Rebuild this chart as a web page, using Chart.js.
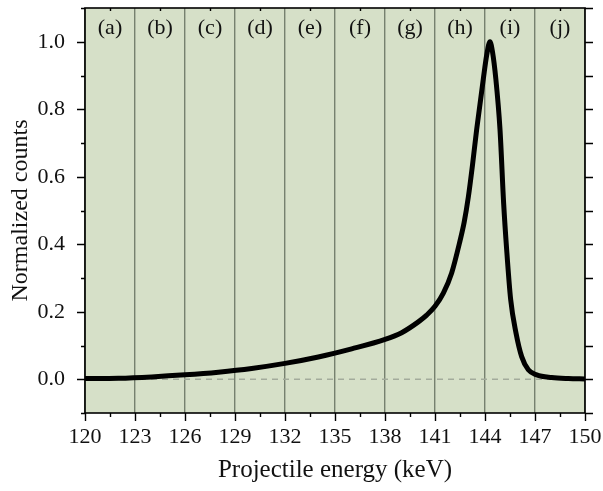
<!DOCTYPE html>
<html>
<head>
<meta charset="utf-8">
<script src="https://cdn.jsdelivr.net/npm/chart.js@4/dist/chart.umd.min.js"></script>
<style>
  html, body { margin: 0; padding: 0; background: #fff; }
  #wrap { width: 603px; height: 491px; }
</style>
</head>
<body>
<div id="wrap"><canvas id="spectrum"></canvas></div>
<script>
// spectrum
const energy = [120, 122, 124, 126, 128, 130, 132, 134, 136, 138, 139, 140, 140.5, 141, 141.5, 142, 142.5, 142.75, 143, 143.25, 143.5, 143.9, 144.1, 144.3, 144.45, 144.65, 144.9, 145.12, 145.3, 145.54, 145.86, 146.2, 146.6, 147.1, 148, 149, 150];
const counts = [0.002, 0.003, 0.007, 0.013, 0.021, 0.032, 0.047, 0.066, 0.09, 0.118, 0.138, 0.17, 0.19, 0.216, 0.255, 0.315, 0.41, 0.465, 0.54, 0.635, 0.74, 0.89, 0.96, 1.0, 0.97, 0.89, 0.74, 0.52, 0.384, 0.236, 0.137, 0.067, 0.028, 0.013, 0.005, 0.002, 0.001];
const zeroEnergy = [120, 150];
const zeroCounts = [0, 0];
const regionLabels = ["(a)", "(b)", "(c)", "(d)", "(e)", "(f)", "(g)", "(h)", "(i)", "(j)"];
const regionCenters = [121.5, 124.5, 127.5, 130.5, 133.5, 136.5, 139.5, 142.5, 145.5, 148.5];
const xTicks = [120, 123, 126, 129, 132, 135, 138, 141, 144, 147, 150];
const yTicks = [0, 0.2, 0.4, 0.6, 0.8, 1.0];

const serif = "'Liberation Serif', 'Times New Roman', serif";

const decor = {
    id: "decor",
    beforeDraw(chart) {
        const a = chart.chartArea, ctx = chart.ctx;
        ctx.save();
        ctx.fillStyle = "#d6e0c8";
        ctx.fillRect(a.left, a.top, a.right - a.left, a.bottom - a.top);
        ctx.restore();
    },
    afterDraw(chart) {
        const a = chart.chartArea, ctx = chart.ctx;
        const xs = chart.scales.x, ys = chart.scales.y;
        ctx.save();
        // region labels
        ctx.fillStyle = "#111";
        ctx.font = "22px " + serif;
        ctx.textAlign = "center";
        ctx.textBaseline = "middle";
        regionLabels.forEach((lab, i) => {
            ctx.fillText(lab, xs.getPixelForValue(regionCenters[i]), 28);
        });
        // frame
        ctx.strokeStyle = "#000";
        ctx.lineWidth = 1.6;
        ctx.strokeRect(a.left, a.top, a.right - a.left, a.bottom - a.top);
        // tick marks
        ctx.lineWidth = 1.4;
        ctx.beginPath();
        for (let v = 120; v <= 150.01; v += 1.5) {
            const px = Math.round(xs.getPixelForValue(v)) + 0.5;
            const major = Math.abs(v / 3 - Math.round(v / 3)) < 1e-6;
            ctx.moveTo(px, a.bottom);
            ctx.lineTo(px, a.bottom + (major ? 8 : 4));
            if (!major) {
                ctx.moveTo(px, a.top);
                ctx.lineTo(px, a.top + 3);
            }
        }
        for (let k = -1; k <= 11; k++) {
            const v = k / 10;
            const py = Math.round(ys.getPixelForValue(v)) + 0.5;
            const major = k >= 0 && k % 2 === 0;
            ctx.moveTo(a.left, py);
            ctx.lineTo(a.left - (major ? 8 : 4), py);
            ctx.moveTo(a.right, py);
            ctx.lineTo(a.right + 8, py);
        }
        ctx.stroke();
        ctx.restore();
    }
};

new Chart(document.getElementById("spectrum").getContext("2d"), {
    type: "line",
    data: {
        datasets: [
            {
                data: energy.map((e, i) => ({ x: e, y: counts[i] })),
                borderColor: "#000",
                borderWidth: 5,
                pointRadius: 0,
                cubicInterpolationMode: "monotone",
                order: 1,
            },
            {
                data: zeroEnergy.map((e, i) => ({ x: e, y: zeroCounts[i] })),
                borderColor: "#a3ab9c",
                borderWidth: 1.5,
                borderDash: [6, 5],
                pointRadius: 0,
                order: 2,
            },
        ],
    },
    options: {
        responsive: true,
        maintainAspectRatio: false,
        animation: false,
        layout: { padding: { top: 8, right: 18, left: 0, bottom: 0 } },
        plugins: { legend: { display: false }, tooltip: { enabled: false } },
        scales: {
            x: {
                type: "linear",
                min: 120,
                max: 150,
                afterBuildTicks: (s) => { s.ticks = xTicks.map((v) => ({ value: v })); },
                afterFit: (s) => {
                    s.height = 78;
                    s.paddingLeft = 0;
                    s.paddingRight = 0;
                },
                border: { display: false },
                grid: {
                    color: "#76816f",
                    lineWidth: 1.4,
                    drawTicks: false,
                },
                ticks: {
                    color: "#111",
                    font: { family: serif, size: 22 },
                    padding: 11,
                    maxRotation: 0,
                },
                title: {
                    display: true,
                    text: "Projectile energy (keV)",
                    color: "#111",
                    font: { family: serif, size: 25 },
                    padding: { top: 0, bottom: 6 },
                },
            },
            y: {
                min: -0.1,
                max: 1.1,
                afterBuildTicks: (s) => { s.ticks = yTicks.map((v) => ({ value: v })); },
                afterFit: (s) => {
                    s.width = 85;
                    s.paddingTop = 0;
                    s.paddingBottom = 0;
                },
                border: { display: false },
                grid: { display: false },
                ticks: {
                    color: "#111",
                    font: { family: serif, size: 22 },
                    padding: 12,
                    callback: (v) => v.toFixed(1),
                },
                title: {
                    display: true,
                    text: "Normalized counts",
                    color: "#111",
                    font: { family: serif, size: 24 },
                    padding: { top: 6, bottom: 0 },
                },
            },
        },
    },
    plugins: [decor],
});
</script>
</body>
</html>
